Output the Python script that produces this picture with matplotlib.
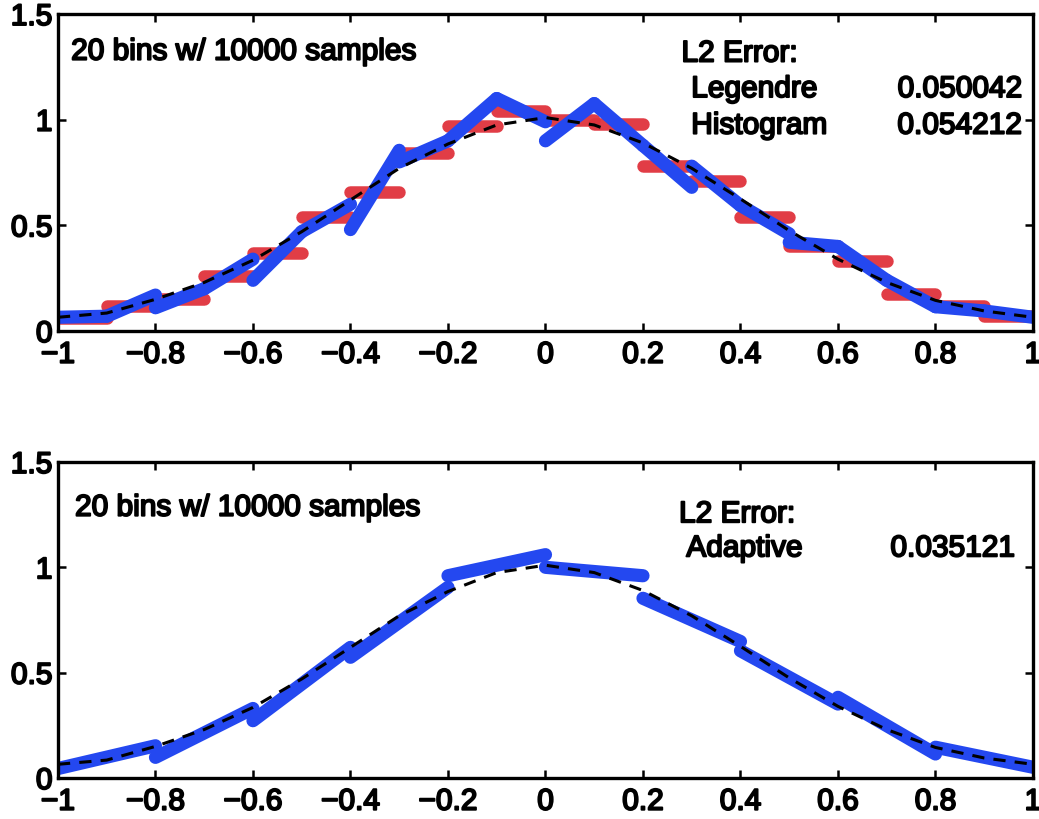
import numpy as np
import matplotlib
matplotlib.use("Agg")
import matplotlib.pyplot as plt
import matplotlib.patheffects as pe

plt.rcParams['font.family'] = ['Liberation Sans', 'DejaVu Sans']

# bin edges (20 bins on [-1, 1])
edges = [-1.0, -0.9, -0.8, -0.7, -0.6, -0.5, -0.4, -0.3, -0.2, -0.1, 0.0,
         0.1, 0.2, 0.3, 0.4, 0.5, 0.6, 0.7, 0.8, 0.9, 1.0]

# histogram heights (red)
hist_y = [0.06, 0.12, 0.15, 0.26, 0.37, 0.54, 0.66, 0.84, 0.97, 1.04,
          1.00, 0.98, 0.78, 0.71, 0.54, 0.40, 0.33, 0.175, 0.12, 0.07]

# legendre estimate: value at start / end of each bin (blue, top)
leg_start = [0.065, 0.07, 0.11, 0.20, 0.24, 0.47, 0.48, 0.80, 0.90, 1.10,
             0.90, 1.076, 0.878, 0.78, 0.594, 0.42, 0.40, 0.24, 0.115, 0.095]
leg_end = [0.07, 0.17, 0.20, 0.34, 0.47, 0.60, 0.855, 0.90, 1.10, 0.99,
           1.076, 0.878, 0.68, 0.594, 0.46, 0.40, 0.24, 0.115, 0.095, 0.065]

# adaptive estimate: 10 pieces (blue, bottom)
ad_edges = [-1.0, -0.8, -0.6, -0.4, -0.2, 0.0, 0.2, 0.4, 0.6, 0.8, 1.0]
ad_start = [0.045, 0.098, 0.272, 0.573, 0.96, 1.00, 0.853, 0.604, 0.383, 0.146]
ad_end = [0.153, 0.33, 0.62, 0.905, 1.06, 0.96, 0.648, 0.351, 0.114, 0.051]

# true density (black dashed)
true_x = edges
true_y = [0.065, 0.085, 0.15, 0.23, 0.335, 0.47, 0.62, 0.77, 0.885, 0.975, 1.01,
          0.975, 0.89, 0.77, 0.625, 0.475, 0.34, 0.23, 0.145, 0.095, 0.065]

xticks = [-1, -0.8, -0.6, -0.4, -0.2, 0, 0.2, 0.4, 0.6, 0.8, 1]
xticklabels = ['\u22121', '\u22120.8', '\u22120.6', '\u22120.4', '\u22120.2',
               '0', '0.2', '0.4', '0.6', '0.8', '1']
yticks = [0, 0.5, 1, 1.5]
yticklabels = ['0', '0.5', '1', '1.5']

RED = '#e0323c'
BLUE = '#2448f0'
FS = 21.5
fx = [pe.withStroke(linewidth=1.4, foreground='black')]

fig = plt.figure(figsize=(10.39, 8.2), dpi=100)
ax1 = fig.add_axes([0.0558, 0.5951, 0.9384, 0.3866])
ax2 = fig.add_axes([0.0558, 0.0500, 0.9384, 0.3854])


def style(ax):
    ax.set_xlim(-1, 1)
    ax.set_ylim(0, 1.5)
    ax.set_xticks(xticks)
    ax.set_xticklabels(xticklabels)
    ax.set_yticks(yticks)
    ax.set_yticklabels(yticklabels)
    ax.tick_params(direction='in', length=6, width=1.8, top=True, right=True,
                   labelsize=FS)
    ax.tick_params(axis='x', pad=7)
    ax.tick_params(axis='y', pad=4)
    for s in ax.spines.values():
        s.set_linewidth(2.4)
    for lab in ax.get_xticklabels() + ax.get_yticklabels():
        lab.set_path_effects(fx)


# top panel
for i in range(20):
    ax1.plot([edges[i], edges[i + 1]], [hist_y[i], hist_y[i]], color=RED,
             lw=9, solid_capstyle='round', alpha=0.95)
for i in range(20):
    ax1.plot([edges[i], edges[i + 1]], [leg_start[i], leg_end[i]], color=BLUE,
             lw=9.5, solid_capstyle='round')
ax1.plot(true_x, true_y, color='black', lw=2.2, dashes=(4, 3))

ax1.text(-0.973, 1.284, '20 bins w/ 10000 samples', fontsize=FS, va='baseline', path_effects=fx)
ax1.text(0.279, 1.275, 'L2 Error:', fontsize=FS, va='baseline', path_effects=fx)
ax1.text(0.299, 1.107, 'Legendre', fontsize=FS, va='baseline', path_effects=fx)
ax1.text(0.299, 0.934, 'Histogram', fontsize=FS, va='baseline', path_effects=fx)
ax1.text(0.977, 1.107, '0.050042', fontsize=FS, va='baseline', ha='right', path_effects=fx)
ax1.text(0.977, 0.934, '0.054212', fontsize=FS, va='baseline', ha='right', path_effects=fx)
style(ax1)

# bottom panel
for i in range(10):
    ax2.plot([ad_edges[i], ad_edges[i + 1]], [ad_start[i], ad_end[i]], color=BLUE,
             lw=9.5, solid_capstyle='round')
ax2.plot(true_x, true_y, color='black', lw=2.2, dashes=(4, 3))

ax2.text(-0.965, 1.245, '20 bins w/ 10000 samples', fontsize=FS, va='baseline', path_effects=fx)
ax2.text(0.274, 1.214, 'L2 Error:', fontsize=FS, va='baseline', path_effects=fx)
ax2.text(0.289, 1.052, 'Adaptive', fontsize=FS, va='baseline', path_effects=fx)
ax2.text(0.963, 1.052, '0.035121', fontsize=FS, va='baseline', ha='right', path_effects=fx)
style(ax2)

fig.savefig('out.png', dpi=100)
